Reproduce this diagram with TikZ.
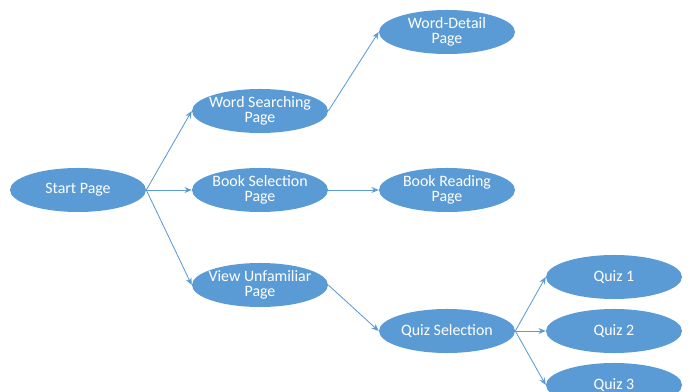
\documentclass[tikz,border=0pt]{standalone}
\usepackage{fontspec}
\setmainfont{Carlito}
\usetikzlibrary{shapes.geometric, arrows.meta}

\definecolor{pageblue}{HTML}{5B9BD5}

\begin{document}
\begin{tikzpicture}[
    x=0.025cm, y=-0.025cm,
    page/.style={ellipse, draw=none, fill=pageblue, text=white, minimum width=3.4cm, minimum height=1.1cm,
                 inner xsep=-0.25cm, inner ysep=0pt, align=center, font=\fontsize{11.3}{10.2}\selectfont},
    link/.style={draw=pageblue, line width=0.6pt, -{Stealth[length=1.8mm, width=1.5mm]}}
]
\clip (0, 0) rectangle (690, 392);

% --- Start ---
\node[page] (start) at (78, 190) {Start Page};

% --- Second level ---
\node[page] (search) at (260, 111) {Word Searching\\Page};
\node[page] (booksel) at (260, 190) {Book Selection\\Page};
\node[page] (unfam) at (260, 285) {View Unfamiliar\\Page};

% --- Third level ---
\node[page] (detail) at (447, 32) {Word-Detail\\Page};
\node[page] (reading) at (447, 190) {Book Reading\\Page};
\node[page] (quizsel) at (447, 331) {Quiz Selection};

% --- Quizzes ---
\node[page] (quiz1) at (614, 277) {Quiz 1};
\node[page] (quiz2) at (614, 331) {Quiz 2};
\node[page] (quiz3) at (614, 385) {Quiz 3};

% Links
\draw[link] (start.east) -- (search.west);
\draw[link] (start.east) -- (booksel.west);
\draw[link] (start.east) -- (unfam.west);
\draw[link] (search.east) -- (detail.west);
\draw[link] (booksel.east) -- (reading.west);
\draw[link] (unfam.east) -- (quizsel.west);
\draw[link] (quizsel.east) -- (quiz1.west);
\draw[link] (quizsel.east) -- (quiz2.west);
\draw[link] (quizsel.east) -- (quiz3.west);
\end{tikzpicture}
\end{document}
